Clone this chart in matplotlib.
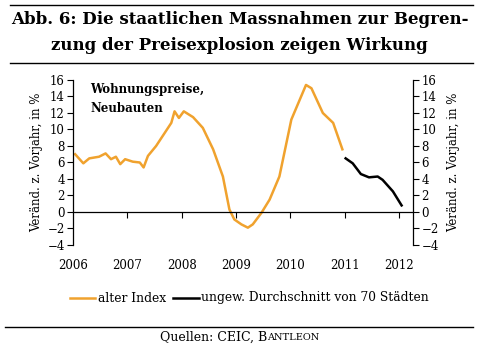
import matplotlib.pyplot as plt
from matplotlib.lines import Line2D

plt.rcParams['font.family'] = ['DejaVu Serif']

# alter Index (Wohnungspreise Neubauten, % ggü. Vorjahr)
alt_x = [2006.04, 2006.19, 2006.30, 2006.48, 2006.60, 2006.70, 2006.79, 2006.87,
         2006.96, 2007.10, 2007.23, 2007.30, 2007.38, 2007.53, 2007.81, 2007.87,
         2007.95, 2008.04, 2008.21, 2008.39, 2008.58, 2008.76, 2008.88, 2008.97,
         2009.10, 2009.22, 2009.31, 2009.47, 2009.62, 2009.80, 2010.02, 2010.29,
         2010.39, 2010.60, 2010.79, 2010.96]
alt_y = [7.0, 5.9, 6.5, 6.7, 7.1, 6.4, 6.7, 5.8,
         6.4, 6.1, 6.0, 5.4, 6.8, 8.0, 10.8, 12.2,
         11.4, 12.2, 11.5, 10.2, 7.6, 4.3, 0.3, -0.9,
         -1.5, -1.9, -1.5, -0.1, 1.5, 4.3, 11.2, 15.4,
         15.0, 12.0, 10.8, 7.6]

# ungewichteter Durchschnitt von 70 Städten
neu_x = [2011.02, 2011.15, 2011.30, 2011.45, 2011.61, 2011.70, 2011.89, 2012.05]
neu_y = [6.5, 5.9, 4.6, 4.2, 4.3, 3.9, 2.5, 0.8]

years = [2006, 2007, 2008, 2009, 2010, 2011, 2012]
yticks = list(range(-4, 17, 2))

orange = '#F0A22E'

fig = plt.figure(figsize=(4.79, 3.49), dpi=100)
ax = fig.add_axes([0.1524, 0.298, 0.7098, 0.4728])

ax.plot(alt_x, alt_y, color=orange, lw=1.8)
ax.plot(neu_x, neu_y, color='black', lw=1.8)

ax.set_xlim(2006, 2012.26)
ax.set_ylim(-4, 16)
ax.set_yticks(yticks)
ax.tick_params(axis='y', labelsize=8.5, length=4, width=0.8, right=True, labelright=True, pad=2)

ax.spines['top'].set_visible(False)
ax.spines['bottom'].set_position(('data', 0))
ax.set_xticks(years[1:])
ax.tick_params(axis='x', length=4, width=0.8, labelbottom=False)
for s in ['left', 'right', 'bottom']:
    ax.spines[s].set_linewidth(0.9)

for yr in years:
    ax.text(yr, -0.127, str(yr), transform=ax.get_xaxis_transform(),
            ha='center', va='center', fontsize=8.5)

ax.set_ylabel('Veränd. z. Vorjahr, in %', fontsize=8.5, labelpad=3)
ax.text(1.12, 0.5, 'Veränd. z. Vorjahr, in %', transform=ax.transAxes,
        rotation=90, ha='center', va='center', fontsize=8.5)

ax.text(0.05, 0.98, 'Wohnungspreise,\nNeubauten', transform=ax.transAxes,
        ha='left', va='top', fontsize=8.5, fontweight='bold', linespacing=1.6)

# Titel und Linien
fig.text(0.5, 1 - 20 / 349, 'Abb. 6: Die staatlichen Massnahmen zur Begren-',
         ha='center', va='center', fontsize=12, fontweight='bold')
fig.text(0.5, 1 - 45 / 349, 'zung der Preisexplosion zeigen Wirkung',
         ha='center', va='center', fontsize=12, fontweight='bold')
fig.add_artist(Line2D([10 / 479, 473 / 479], [1 - 5 / 349] * 2, color='black', lw=1))
fig.add_artist(Line2D([10 / 479, 473 / 479], [1 - 63 / 349] * 2, color='black', lw=1))
fig.add_artist(Line2D([5 / 479, 473 / 479], [1 - 327 / 349] * 2, color='black', lw=1))

# Legende
ly = 1 - 298 / 349
fig.add_artist(Line2D([70 / 479, 95 / 479], [ly, ly], color=orange, lw=1.8))
fig.text(98 / 479, ly, 'alter Index', ha='left', va='center', fontsize=8.8)
fig.add_artist(Line2D([173 / 479, 199 / 479], [ly, ly], color='black', lw=1.8))
fig.text(201 / 479, ly, 'ungew. Durchschnitt von 70 Städten', ha='left', va='center', fontsize=8.8)

# Quelle
sy = 1 - 337 / 349
fig.text(267 / 479, sy, 'Quellen: CEIC, B', ha='right', va='center', fontsize=9)
fig.text(267 / 479, sy, 'ANTLEON', ha='left', va='center', fontsize=7)

fig.savefig('out.png', dpi=100)
